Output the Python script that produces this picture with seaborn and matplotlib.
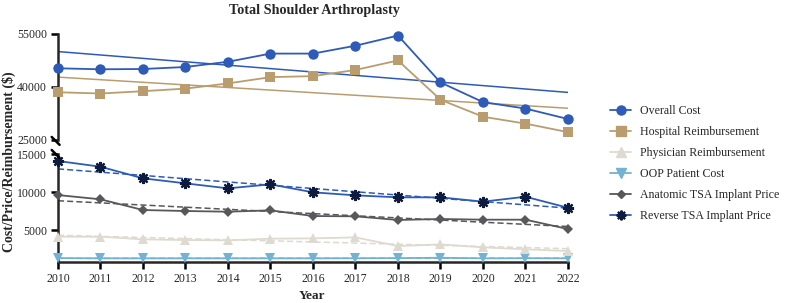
import matplotlib
matplotlib.use("Agg")
import matplotlib.pyplot as plt
from matplotlib.lines import Line2D
import numpy as np
import pandas as pd
import seaborn as sns

# ---- data ----
years = list(range(2010, 2023))

overall_cost = [45280, 45000, 45080, 45650, 47130, 49440, 49440, 51670, 54540, 41280, 35720, 33890, 30930]
hospital_reimb = [38500, 38150, 38800, 39540, 41000, 42780, 43060, 44810, 47500, 36390, 31580, 29630, 27220]
physician_reimb = [4120, 4120, 3770, 3680, 3640, 3860, 3900, 4030, 2890, 3110, 2720, 2460, 2240]
oop_cost = [1300, 1270, 1270, 1270, 1270, 1270, 1270, 1280, 1300, 1350, 1270, 1280, 1270]
anatomic_price = [9600, 9040, 7630, 7500, 7410, 7590, 6840, 6800, 6320, 6450, 6360, 6360, 5130]
reverse_price = [14080, 13330, 11800, 11140, 10480, 11010, 9960, 9560, 9300, 9300, 8730, 9380, 7930]

top_ticks = [25000, 40000, 55000]
bottom_ticks = [5000, 10000, 15000]

# ---- style ----
sns.set_theme(style="ticks")
plt.rcParams["font.family"] = ["Liberation Serif", "DejaVu Serif"]
plt.rcParams["axes.linewidth"] = 1.8

C_OVERALL = "#2E5BB8"
C_HOSP = "#BA9D6E"
C_PHYS = "#DEDAD0"
C_OOP = "#72B2D2"
C_ANAT = "#58585C"
C_REV_M = "#0D1B3E"
C_REV_L = "#2E5BB8"
STAR = (8, 2, 0)

fig = plt.figure(figsize=(7.87, 3.03), dpi=100)
ax_top = fig.add_axes([0.0737, 0.538, 0.648, 0.350])
ax_bot = fig.add_axes([0.0737, 0.1363, 0.648, 0.3554])

df = pd.DataFrame({
    "year": years,
    "overall": overall_cost,
    "hospital": hospital_reimb,
    "physician": physician_reimb,
    "oop": oop_cost,
    "anatomic": anatomic_price,
    "reverse": reverse_price,
})


def series(ax, col, color, marker, ms, mcolor=None, mew=0.0, trend_ls="-", trend_lw=1.1):
    # linear trend + the yearly values
    sns.regplot(data=df, x="year", y=col, ax=ax, scatter=False, ci=None,
                line_kws=dict(color=color, lw=trend_lw, ls=trend_ls))
    sns.lineplot(data=df, x="year", y=col, ax=ax, color=color, lw=1.3,
                 marker=marker, markersize=ms,
                 markerfacecolor=mcolor or color,
                 markeredgecolor=mcolor or color, markeredgewidth=mew,
                 clip_on=False, zorder=4)


# top panel
series(ax_top, "overall", C_OVERALL, "o", 7.5)
series(ax_top, "hospital", C_HOSP, "s", 7)

# bottom panel
series(ax_bot, "oop", C_OOP, "v", 7, trend_ls=(0, (4, 2)))
series(ax_bot, "physician", C_PHYS, "^", 7, trend_ls=(0, (4, 2)))
series(ax_bot, "anatomic", C_ANAT, "D", 5.5, trend_ls=(0, (4, 2)))
series(ax_bot, "reverse", C_REV_L, STAR, 8, mcolor=C_REV_M, mew=1.6, trend_ls=(0, (4, 2)))

for ax in (ax_top, ax_bot):
    ax.set_xlim(2010, 2022)
    ax.set_xlabel("")
    ax.set_ylabel("")
    ax.tick_params(axis="both", labelsize=8.5, width=1.8, length=5, color="black", pad=3)

ax_top.set_ylim(25000, 55000)
ax_top.set_yticks(top_ticks)
ax_top.set_xticks([])
sns.despine(ax=ax_top, bottom=True)

ax_bot.set_ylim(830, 15000)
ax_bot.set_yticks(bottom_ticks)
ax_bot.set_xticks(years)
ax_bot.set_xticklabels([str(y) for y in years])
sns.despine(ax=ax_bot)

# break marks on the y axis
kw = dict(color="black", lw=1.8, clip_on=False, transform=fig.transFigure)
x0 = 0.0737
fig.add_artist(Line2D([x0 - 0.008, x0 + 0.002], [0.548, 0.522], **kw))
fig.add_artist(Line2D([x0 - 0.008, x0 + 0.002], [0.505, 0.479], **kw))

fig.text(0.399, 0.965, "Total Shoulder Arthroplasty", ha="center", va="center",
         fontsize=10.2, fontweight="bold")
fig.text(0.0115, 0.465, "Cost/Price/Reimbursement ($)", rotation=90, ha="center", va="center",
         fontsize=10, fontweight="bold")
fig.text(0.397, 0.022, "Year", ha="center", va="center", fontsize=9.5, fontweight="bold")

handles = [
    Line2D([0], [0], color=C_OVERALL, marker="o", ms=6.5, lw=1.3, label="Overall Cost"),
    Line2D([0], [0], color=C_HOSP, marker="s", ms=6.5, lw=1.3, label="Hospital Reimbursement"),
    Line2D([0], [0], color=C_PHYS, marker="^", ms=6.5, lw=1.3, label="Physician Reimbursement"),
    Line2D([0], [0], color=C_OOP, marker="v", ms=6.5, lw=1.3, label="OOP Patient Cost"),
    Line2D([0], [0], color=C_ANAT, marker="D", ms=4.5, lw=1.3, label="Anatomic TSA Implant Price"),
    Line2D([0], [0], color=C_REV_L, marker=STAR, ms=7, mec=C_REV_M, mew=1.5, lw=1.3,
           label="Reverse TSA Implant Price"),
]
fig.legend(handles=handles, loc="center left", bbox_to_anchor=(0.762, 0.46), frameon=False,
           fontsize=8.6, handlelength=1.7, labelspacing=0.75, handletextpad=0.8)

fig.savefig("out.png", dpi=100, facecolor="white")
